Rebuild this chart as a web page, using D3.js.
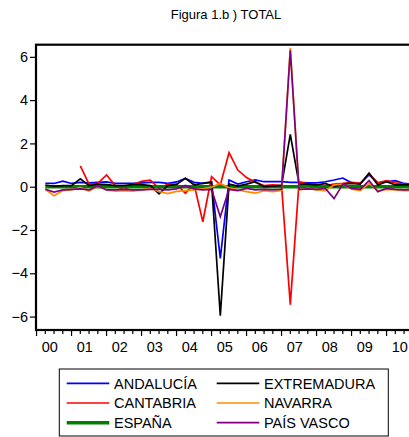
<!DOCTYPE html>
<html>
<head>
<meta charset="utf-8">
<script src="https://cdn.jsdelivr.net/npm/d3@7"></script>
<style>
  body { margin: 0; background: #fff; }
  svg { display: block; font-family: Arial, "Liberation Sans", sans-serif; }
</style>
</head>
<body>
<svg id="chart" width="409" height="437"></svg>
<script>
// quarterly observations, 2000Q1 .. 2010Q4
const yearLabels = ["00", "01", "02", "03", "04", "05", "06", "07", "08", "09", "10"];
const yTicks = [-6, -4, -2, 0, 2, 4, 6];

const andalucia = [0.16, 0.15, 0.26, 0.15, 0.20, 0.18, 0.20, 0.22, 0.15, 0.15,
  0.15, 0.18, 0.20, 0.20, 0.15, 0.22, 0.38, 0.20, 0.15, 0.23,
  -3.31, 0.31, 0.12, 0.23, 0.31, 0.23, 0.23, 0.23, 0.20, 0.20,
  0.18, 0.18, 0.23, 0.31, 0.40, 0.18, 0.15, 0.55, 0.18, 0.23,
  0.28, 0.15, 0.12, 0.12];
const cantabria = [null, null, null, null, 0.96, 0.12, 0.15, 0.54, 0.05, -0.15,
  0.10, 0.25, 0.30, -0.08, 0.12, 0.12, -0.30, 0.12, -1.62, 0.46,
  0.08, 1.57, 0.77, 0.42, 0.20, 0.05, 0.08, 0.05, -5.45, 0.23,
  0.12, 0.10, 0.05, 0.12, 0.15, 0.20, 0.15, 0.60, 0.18, 0.28,
  0.18, 0.12, 0.08, 0.08];
const espana = [0, 0, 0, 0, 0, 0, 0, 0, 0, 0,
  0, 0, 0, 0, 0, 0, 0, 0, 0, 0,
  0, 0, 0, 0, 0, 0, 0, 0, 0, 0,
  0, 0, 0, 0, 0, 0, 0, 0, 0, 0,
  0, 0, 0, 0];
const extremadura = [0.08, 0.02, 0.05, 0.05, 0.36, 0.05, 0.12, 0.10, 0.05, 0.05,
  0.10, 0.10, 0.05, -0.33, 0.05, 0.10, 0.39, 0.08, 0.15, 0.20,
  -5.96, 0.12, 0.03, 0.12, 0.23, 0.00, 0.03, 0.06, 2.42, 0.12,
  0.12, 0.08, 0.15, 0.00, 0.12, 0.15, 0.12, 0.63, 0.08, 0.23,
  0.08, 0.08, 0.08, 0.08];
const navarra = [-0.12, -0.42, -0.18, -0.15, -0.03, -0.20, 0.02, -0.15, -0.20, -0.18,
  -0.20, -0.15, -0.08, -0.22, -0.32, -0.22, -0.18, -0.15, -0.10, -0.02,
  0.15, -0.05, -0.15, -0.23, -0.30, -0.18, -0.23, -0.18, 6.42, -0.15,
  -0.08, -0.15, -0.18, 0.08, 0.12, -0.12, -0.18, 0.15, -0.18, -0.12,
  -0.15, -0.18, -0.18, -0.18];
const paisVasco = [-0.12, -0.25, -0.15, -0.12, -0.10, -0.15, 0.05, -0.15, -0.15, -0.12,
  -0.15, -0.15, -0.12, -0.12, -0.15, -0.10, 0.06, -0.10, -0.15, -0.12,
  -1.39, -0.12, -0.18, -0.08, -0.15, -0.12, -0.15, -0.12, 6.30, -0.12,
  -0.10, -0.12, -0.08, -0.55, 0.12, -0.08, -0.12, 0.28, -0.23, -0.08,
  -0.12, -0.15, -0.12, -0.12];

const seriesNames = ["ANDALUCÍA", "CANTABRIA", "ESPAÑA", "EXTREMADURA", "NAVARRA", "PAÍS VASCO"];
const seriesValues = [andalucia, cantabria, espana, extremadura, navarra, paisVasco];
const seriesColors = ["#0000ff", "#ff0000", "#008000", "#000000", "#ff8c00", "#800080"];
const seriesWidths = [1.7, 1.7, 3.6, 1.7, 1.7, 1.7];

const svg = d3.select("svg#chart");
const plot = { left: 36, right: 432, top: 44.7, bottom: 330 };

const x = d3.scaleLinear().domain([0, 43]).range([45.3, 421.55]);
const y = d3.scaleLinear().domain([-6.62, 6.56]).range([plot.bottom, plot.top]);

// title
svg.append("text")
  .attr("x", 226)
  .attr("y", 19)
  .attr("text-anchor", "middle")
  .style("font-size", "13px")
  .text("Figura 1.b ) TOTAL");

// series
const line = d3.line()
  .defined(d => d != null)
  .x((d, i) => x(i))
  .y(d => y(d));

seriesValues.forEach(function (vals, k) {
  svg.append("path")
    .datum(vals)
    .attr("fill", "none")
    .attr("stroke", seriesColors[k])
    .attr("stroke-width", seriesWidths[k])
    .attr("stroke-linejoin", "miter")
    .attr("d", line);
});

// frame
svg.append("rect")
  .attr("x", plot.left)
  .attr("y", plot.top)
  .attr("width", plot.right - plot.left)
  .attr("height", plot.bottom - plot.top)
  .attr("fill", "none")
  .attr("stroke", "#000")
  .attr("stroke-width", 2.2);

// y axis
const yAxis = d3.axisLeft(y).tickValues(yTicks).tickSize(6).tickPadding(2);
const gy = svg.append("g")
  .attr("transform", `translate(${plot.left},0)`)
  .call(yAxis);
gy.select(".domain").remove();
gy.selectAll("line").attr("stroke-width", 1.2);
gy.selectAll("text").style("font-size", "14.5px").style("font-family", "Arial, 'Liberation Sans', sans-serif");

// x axis: tick at every quarter, longer at year boundaries
const tickIdx = d3.range(-1, 45);
svg.append("g").selectAll("line")
  .data(tickIdx)
  .join("line")
  .attr("x1", d => x(d))
  .attr("x2", d => x(d))
  .attr("y1", plot.bottom)
  .attr("y2", d => plot.bottom + ((d + 1) % 4 === 0 ? 6 : 4))
  .attr("stroke", "#000")
  .attr("stroke-width", 1.2);

svg.append("g").selectAll("text")
  .data(yearLabels)
  .join("text")
  .attr("x", (d, i) => x(0.52 + 4 * i))
  .attr("y", 352)
  .attr("text-anchor", "middle")
  .style("font-size", "14.5px")
  .text(d => d);

// legend
const legend = svg.append("g");
legend.append("rect")
  .attr("x", 59.3)
  .attr("y", 369)
  .attr("width", 329)
  .attr("height", 67)
  .attr("fill", "#fff")
  .attr("stroke", "#000")
  .attr("stroke-width", 1);

seriesNames.forEach(function (name, k) {
  const col = Math.floor(k / 3);
  const row = k % 3;
  const lx = col === 0 ? 66.7 : 216.7;
  const ly = 383.3 + row * 19.7;
  legend.append("line")
    .attr("x1", lx)
    .attr("x2", lx + 42.6)
    .attr("y1", ly)
    .attr("y2", ly)
    .attr("stroke", seriesColors[k])
    .attr("stroke-width", seriesWidths[k]);
  legend.append("text")
    .attr("x", lx + 47.3)
    .attr("y", ly + 5.3)
    .style("font-size", "14.5px")
    .text(name);
});
</script>
</body>
</html>
